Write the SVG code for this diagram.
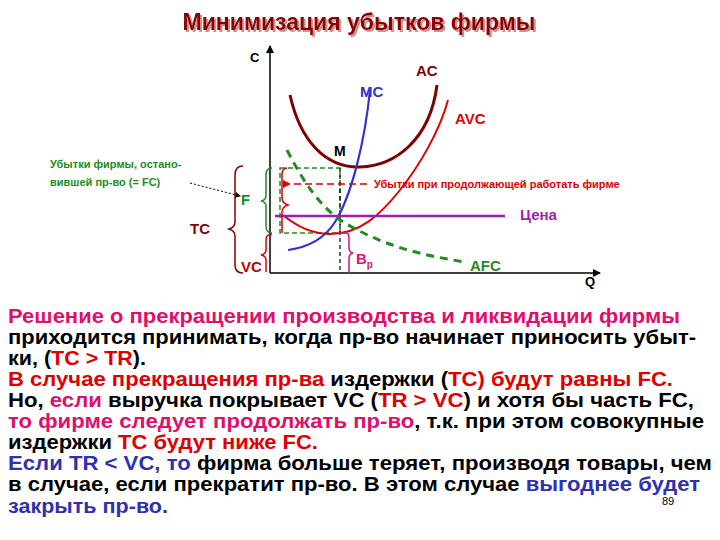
<svg xmlns="http://www.w3.org/2000/svg" width="720" height="540" viewBox="0 0 720 540">
<defs>
<marker id="ah" markerWidth="8" markerHeight="8" refX="7" refY="4" orient="auto" markerUnits="userSpaceOnUse"><path d="M0,0 L8,4 L0,8 z" fill="#000"/></marker>
<marker id="ar" markerWidth="8" markerHeight="8" refX="1" refY="4" orient="auto" markerUnits="userSpaceOnUse"><path d="M8,0 L0,4 L8,8 z" fill="#e00000"/></marker>
<marker id="ak" markerWidth="6" markerHeight="6" refX="5" refY="3" orient="auto" markerUnits="userSpaceOnUse"><path d="M0,0 L6,3 L0,6 z" fill="#000"/></marker>
<filter id="sh" x="-5%" y="-20%" width="110%" height="140%"><feDropShadow dx="2" dy="2" stdDeviation="0.5" flood-color="#d09090"/></filter>
</defs>
<style>
text{font-family:"Liberation Sans",Arial,sans-serif;font-weight:bold}
.b{font-size:20px}
.k{fill:#000}.p{fill:#e0106a}.r{fill:#e00000}.u{fill:#3030b0}
</style>
<rect width="720" height="540" fill="#fff"/>
<text x="359" y="30" font-size="23" fill="#8b0000" text-anchor="middle" filter="url(#sh)">Минимизация убытков фирмы</text>
<g id="axes" stroke="#000" stroke-width="1.5" fill="none">
<line x1="270" y1="273" x2="270" y2="46" marker-end="url(#ah)"/>
<line x1="270" y1="273" x2="600" y2="273" marker-end="url(#ah)"/>
</g>
<text x="250" y="62" font-size="13" class="k">C</text>
<text x="585" y="286" font-size="13" class="k">Q</text>
<g id="connectors">
<rect x="280" y="168" width="60" height="65" fill="none" stroke="#228b22" stroke-width="1.5" stroke-dasharray="5,3"/>
<line x1="340" y1="168" x2="340" y2="273" stroke="#000" stroke-width="1.2" stroke-dasharray="4,3"/>
<line x1="367" y1="184" x2="290" y2="184" stroke="#e00000" stroke-width="1.5" stroke-dasharray="7,4" marker-end="url(#ar)"/>
<path d="M190,183 L240,196" stroke="#000" stroke-width="1" stroke-dasharray="2,2" fill="none" marker-end="url(#ak)"/>
</g>
<g id="AC"><path d="M290,95 C300,140 325,168 360,167 C395,166 430,140 437,85" fill="none" stroke="#800000" stroke-width="3"/><text x="416" y="76" font-size="15" fill="#800000">AC</text></g>
<g id="AVC"><path d="M283,215 C295,225 310,234 330,234 C360,234 380,215 400,190 C420,165 440,130 448,100" fill="none" stroke="#e00000" stroke-width="2"/><text x="455" y="124" font-size="15" class="r">AVC</text></g>
<g id="MC"><path d="M288,250 C310,247 325,238 335,222 C352,195 365,140 370,90" fill="none" stroke="#3333cc" stroke-width="2.2"/><text x="360" y="97" font-size="15" fill="#3333cc">MC</text></g>
<text x="334" y="156" font-size="14" class="k">M</text>
<g id="price"><line x1="275" y1="216" x2="505" y2="216" stroke="#9b1fb0" stroke-width="2.5"/><text x="520" y="220" font-size="15" fill="#9b1fb0">Цена</text></g>
<g id="AFC"><path d="M287,150 C305,185 320,205 340,220 C380,245 420,255 465,262" fill="none" stroke="#228b22" stroke-width="3" stroke-dasharray="8,6"/><text x="470" y="271" font-size="15" fill="#228b22">AFC</text></g>
<g id="braces">
<path d="M287,168 Q282,168 282,175 L282,198 Q282,203 288,205 Q282,207 282,212 L282,233" stroke="#e00000" fill="none" stroke-width="1.5"/>
<path d="M272,168 Q266,168 266,175 L266,196 Q266,200 261,201 Q266,202 266,206 L266,226 Q266,233 272,233" stroke="#228b22" fill="none" stroke-width="1.5"/>
<path d="M272,234 Q266,234 266,240 L266,250 Q266,254 261,255 Q266,256 266,260 L266,272" stroke="#e00000" fill="none" stroke-width="1.5"/>
<path d="M243,166 Q235,166 235,175 L235,222 Q235,227 229,229 Q235,231 235,236 L235,265 Q235,273 243,273" stroke="#8b0000" fill="none" stroke-width="1.5"/>
<path d="M340,233 L346,233 Q349,233 349,238 L349,248 Q349,252 353,253 Q349,254 349,258 L349,273" stroke="#e0106a" fill="none" stroke-width="1.5"/>
</g>
<text x="241" y="205" font-size="15" fill="#228b22">F</text>
<text x="241" y="272" font-size="15" fill="#c00000">VC</text>
<text x="190" y="234" font-size="15" fill="#8b0000">TC</text>
<text x="356" y="264" font-size="15" fill="#e0106a">B<tspan font-size="10" dy="4">p</tspan></text>
<text x="50" y="168" font-size="11" fill="#228b22">Убытки фирмы, остано-</text>
<text x="50" y="186" font-size="11" fill="#228b22">вившей пр-во (= FC)</text>
<text x="374" y="188" font-size="11" fill="#e00000">Убытки при продолжающей работать фирме</text>
<g id="body" class="b">
<text x="8" y="323" textLength="672" lengthAdjust="spacingAndGlyphs" class="p">Решение о прекращении производства и ликвидации фирмы</text>
<text x="8" y="344" textLength="688" lengthAdjust="spacingAndGlyphs" class="k">приходится принимать, когда пр-во начинает приносить убыт-</text>
<text x="8" y="365" textLength="138" lengthAdjust="spacingAndGlyphs" class="k">ки, (<tspan class="r">TC &gt; TR</tspan>).</text>
<text x="8" y="386" textLength="665" lengthAdjust="spacingAndGlyphs" class="r">В случае прекращения пр-ва <tspan class="k">издержки (</tspan>TC) будут равны FC.</text>
<text x="8" y="407" textLength="686" lengthAdjust="spacingAndGlyphs" class="k">Но, <tspan class="p">если</tspan> выручка покрывает VC (<tspan class="r">TR &gt; VC</tspan>) и хотя бы часть FC,</text>
<text x="8" y="428" textLength="696" lengthAdjust="spacingAndGlyphs" class="p">то фирме следует продолжать пр-во<tspan class="k">, т.к. при этом совокупные</tspan></text>
<text x="8" y="449" textLength="310" lengthAdjust="spacingAndGlyphs" class="k">издержки <tspan class="r">TC будут ниже FC.</tspan></text>
<text x="8" y="470" textLength="704" lengthAdjust="spacingAndGlyphs" class="u">Если TR &lt; VC, то <tspan class="k">фирма больше теряет, производя товары, чем</tspan></text>
<text x="8" y="491" textLength="692" lengthAdjust="spacingAndGlyphs" class="k">в случае, если прекратит пр-во. В этом случае <tspan class="u">выгоднее будет</tspan></text>
<text x="8" y="513" textLength="160" lengthAdjust="spacingAndGlyphs" class="u">закрыть пр-во.</text>
</g>
<text x="662" y="505" font-size="11" class="k" style="font-weight:normal">89</text>
</svg>
